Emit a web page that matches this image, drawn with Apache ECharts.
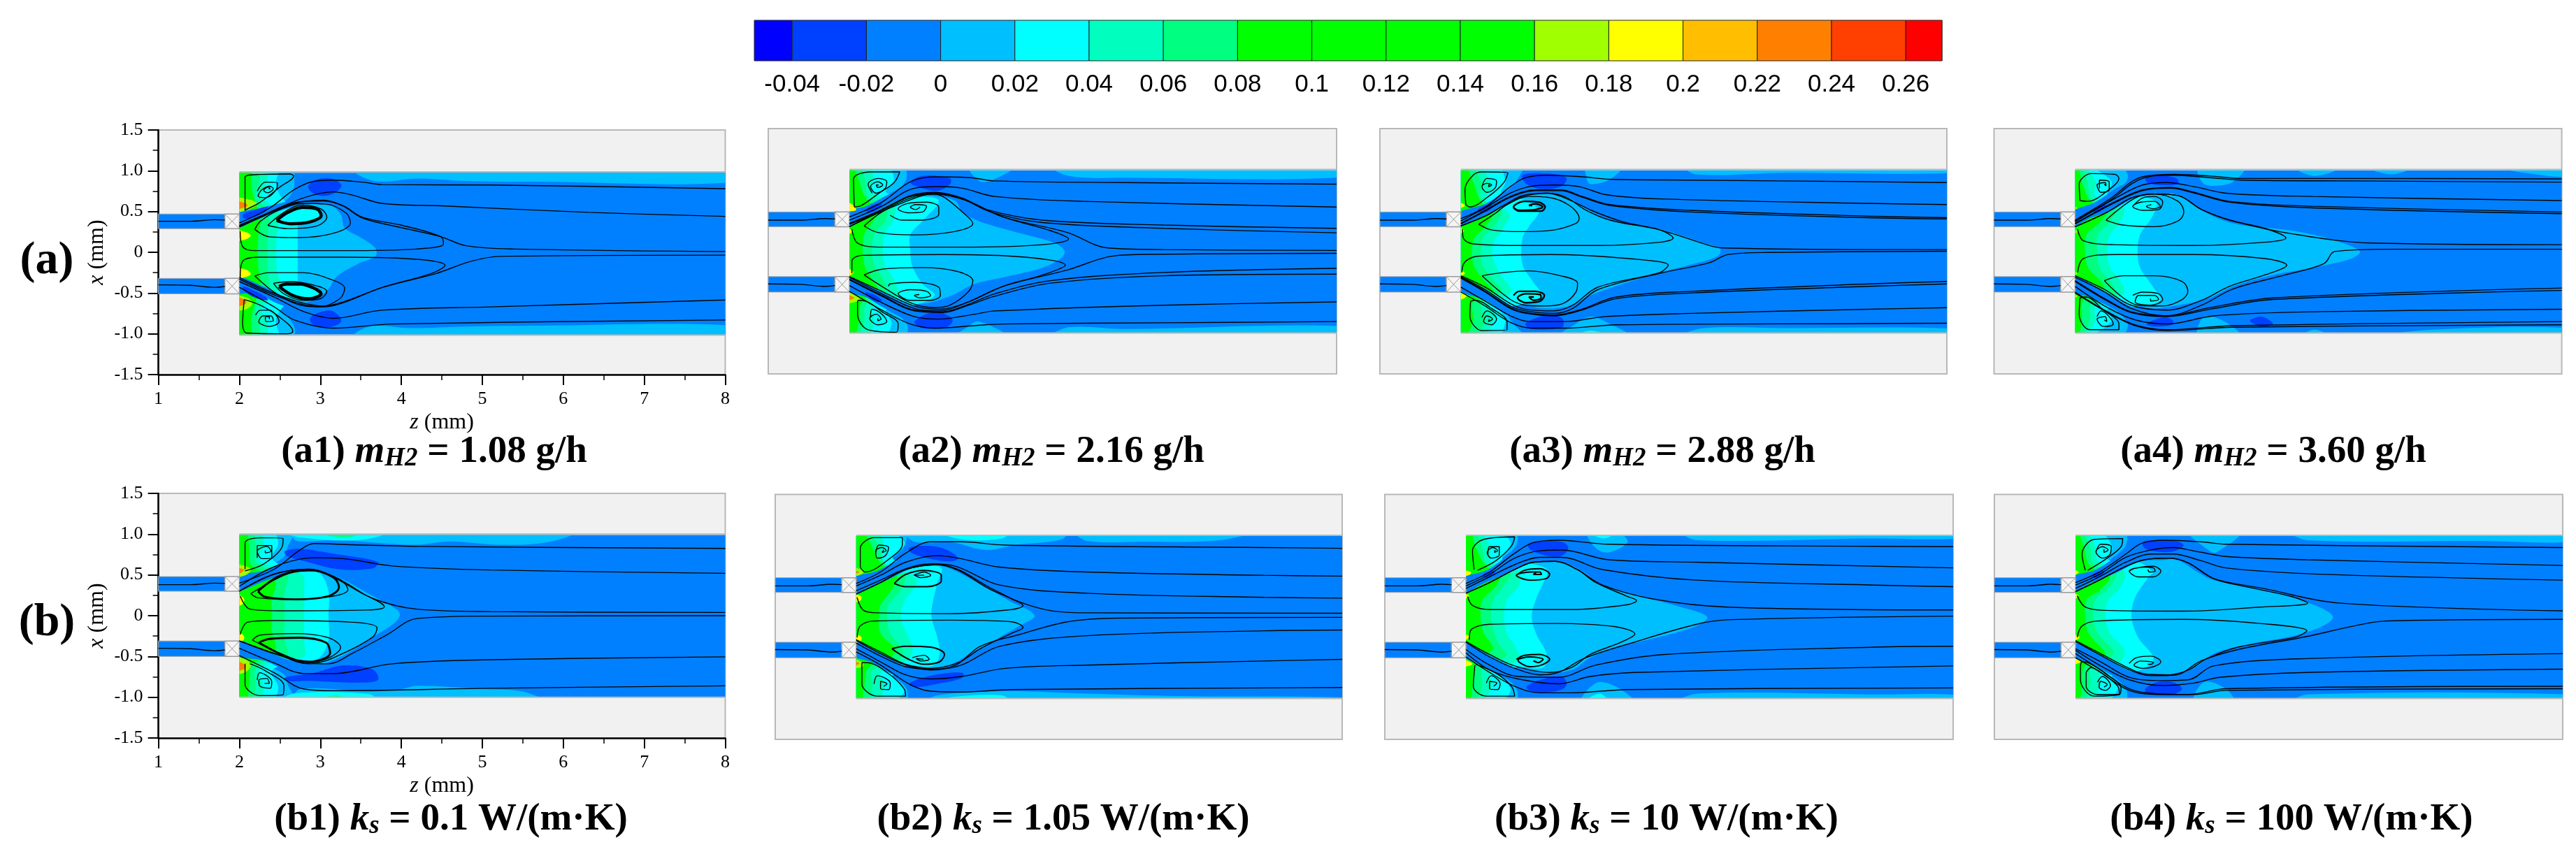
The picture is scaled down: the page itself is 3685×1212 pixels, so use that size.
<!DOCTYPE html>
<html>
<head>
<meta charset="utf-8">
<style>html,body{margin:0;background:#fff}#chart{width:3685px;height:1212px}</style>
<script src="https://cdn.jsdelivr.net/npm/echarts@6/dist/echarts.min.js"></script>
</head>
<body>
<div id="chart"></div>
<script>
// colour bar
const bandEdges = [-0.0502,-0.04,-0.02,0,0.02,0.04,0.06,0.08,0.1,0.12,0.14,0.16,0.18,0.2,0.22,0.24,0.26,0.2698];
const bandColors = ['#0000ff','#0040ff','#0080ff','#00bfff','#00ffff','#00ffbf','#00ff80','#00ff00','#00ff00','#00ff00','#00ff00','#a0ff00','#ffff00','#ffbf00','#ff8000','#ff4000','#ff0000'];
const xTicks = [1,2,3,4,5,6,7,8];
const yTicks = [-1.5,-1,-0.5,0,0.5,1,1.5];
const yTickLabels = ['-1.5','-1.0','-0.5','0','0.5','1.0','1.5'];

// inlet streamlines, z,x pairs
const inletTop = [1,.38,1.4,.38,1.7,.4,1.82,.395];
const inletBot = [1,-.4,1.4,-.405,1.7,-.43,1.82,-.42];

// filled contours: [band value, [z,x, z,x ...]]
const a1Fill = [
 [.01,[1.9,1.1,2.65,1.05,2.68,.9,2.66,.75,2.55,.62,2.3,.52,2,.47]],
 [.01,[2,.3,2.3,.42,2.6,.56,3.07,.6,3.25,.47,3.3,.3,3.5,.18,3.68,.05,3.68,-.05,3.47,-.14,3.2,-.3,3.1,-.45,2.95,-.57,2.7,-.63,2.4,-.5,2,-.3]],
 [.01,[1.9,-1.1,2.65,-1.05,2.68,-.92,2.55,-.75,2.3,-.6,2,-.5]],
 [.01,[3.4,1.05,3.45,.96,3.71,.87,4.19,.905,4.8,.875,5.7,.865,8.1,.86,8.1,1.05]],
 [.01,[3.4,-1.05,3.5,-.95,3.7,-.9,4.1,-.93,4.8,-.91,5.7,-.9,8.1,-.9,8.1,-1.05]],
 [.03,[1.9,1.1,2.48,1.05,2.45,.85,2.5,.7,2.6,.6,2.72,.55,2.72,.3,2.72,-.3,2.72,-.58,2.6,-.62,2.5,-.72,2.45,-.85,2.48,-1.05,1.9,-1.1]],
 [.05,[1.9,1.1,2.32,1.05,2.35,.9,2.28,.7,2.4,.56,2.5,.45,2.46,.2,2.46,-.2,2.5,-.42,2.4,-.55,2.28,-.7,2.35,-.9,2.32,-1.05,1.9,-1.1]],
 [.07,[1.9,1.1,2.22,1.05,2.25,.9,2.2,.68,2.35,.5,2.35,.15,2.35,-.15,2.35,-.5,2.2,-.68,2.25,-.9,2.22,-1.05,1.9,-1.1]],
 [.09,[1.9,1.1,2.13,1.05,2.15,.8,2.2,.6,2.26,.4,2.23,.15,2.23,-.15,2.26,-.4,2.2,-.6,2.15,-.8,2.13,-1.05,1.9,-1.1]],
 [-.01,[1.95,.48,2.2,.53,2.5,.6,2.8,.68,3.1,.7,3.1,.62,2.8,.59,2.5,.51,2.2,.39,1.95,.3]],
 [-.01,[1.95,-.3,2.3,-.42,2.6,-.57,2.9,-.66,2.9,-.73,2.5,-.64,2.2,-.5,1.95,-.5]],
 [.03,[2.46,.39,2.63,.35,2.86,.37,3.01,.45,2.96,.53,2.78,.55,2.6,.49]],
 [.03,[2.49,-.42,2.66,-.53,2.86,-.57,3.01,-.51,2.92,-.44,2.75,-.39,2.58,-.39]],
 [-.03,[2.05,.47,2.2,.52,2.35,.56,2.32,.5,2.15,.42,2.05,.42]],
 [-.03,[2.05,-.42,2.2,-.48,2.33,-.55,2.35,-.59,2.2,-.56,2.05,-.47]],
 [-.03,[2.85,.81,2.95,.89,3.15,.9,3.26,.82,3.18,.73,3.04,.69,2.9,.73]],
 [-.03,[2.87,-.82,2.98,-.74,3.15,-.72,3.26,-.84,3.15,-.91,2.95,-.91]],
 [.17,[1.95,.66,2.15,.64,2.22,.59,2.1,.52,1.95,.5]],
 [.23,[1.95,.62,2.08,.6,2.1,.57,2.03,.54,1.95,.53]],
 [.19,[1.95,.27,2.1,.24,2.14,.2,2.05,.15,1.95,.15]],
 [.19,[1.95,-.2,2.1,-.22,2.14,-.27,2.05,-.31,1.95,-.31]],
 [.17,[1.95,-.54,2.1,-.56,2.16,-.63,2.08,-.7,1.95,-.7]],
 [.23,[1.95,-.56,2.07,-.58,2.08,-.63,1.95,-.66]]
];
const a1Lines = [
 [2,.36,2.37,.54,2.68,.77,2.92,.87,3.16,.885,3.52,.86,3.76,.83,5.1,.825,8,.78],
 [2,.33,2.37,.49,2.8,.67,3.16,.74,3.4,.7,3.76,.6,4.49,.57,6.31,.49,8,.44],
 [2,.31,2.31,.45,2.68,.6,3.04,.64,3.28,.57,3.52,.42,4.01,.3,4.49,.19,4.8,.08,5.4,.04,8,.01],
 [2.01,.26,2.04,.07,2.19,.02,3.28,.02,4.19,.04,4.52,.1,4.49,.19,4.01,.33,3.52,.43,3.28,.57,3.04,.63,2.68,.61,2.31,.46,2,.32],
 [2.19,.28,2.37,.19,2.72,.18,3.15,.23,3.37,.36,3.32,.48,3.07,.59,2.78,.6,2.49,.52,2.26,.38,2.19,.28],
 [2.35,.33,2.6,.29,2.95,.32,3.08,.43,3.01,.53,2.78,.58,2.55,.49,2.35,.33],
 [2.42,-.38,2.63,-.36,2.95,-.41,3.08,-.48,3,-.57,2.78,-.59,2.55,-.51,2.42,-.38],
 [2.19,-.29,2.37,-.25,2.78,-.25,3.15,-.34,3.3,-.44,3.24,-.57,2.98,-.67,2.72,-.64,2.43,-.49,2.19,-.29],
 [2.01,-.31,2.04,-.11,2.25,-.06,3.28,-.06,4.25,-.09,4.54,-.16,4.37,-.26,3.77,-.43,3.28,-.61,3.04,-.66,2.74,-.61,2.37,-.48,2,-.31],
 [2,-.33,2.37,-.5,2.74,-.63,3.04,-.67,3.28,-.62,3.77,-.43,4.43,-.26,4.86,-.11,5.22,-.05,8,-.035],
 [2,-.36,2.43,-.55,2.8,-.73,3.16,-.81,3.76,-.71,5.1,-.67,8,-.585],
 [2,-.43,2.43,-.67,2.68,-.83,3.16,-.93,3.89,-.88,8,-.83],
 [2.07,.51,2.07,.92,2.25,.955,2.62,.96,2.67,.935,2.5,.8,2.25,.61,2.07,.52],
 [2.22,.75,2.32,.86,2.47,.85,2.46,.78,2.32,.67,2.23,.69,2.27,.76,2.37,.81,2.42,.78,2.35,.73,2.3,.76,2.36,.8,2.38,.78,2.36,.78],
 [2.06,-.58,2.04,-.88,2.09,-.99,2.6,-1,2.66,-.97,2.49,-.79,2.26,-.65,2.06,-.58],
 [2.2,-.77,2.26,-.71,2.37,-.71,2.49,-.85,2.37,-.91,2.24,-.85,2.29,-.78,2.39,-.78,2.42,-.84,2.33,-.85,2.32,-.8,2.37,-.79,2.37,-.82]
];
const a1Thick = [
 [2.46,.39,2.63,.35,2.86,.37,3.01,.45,2.96,.53,2.78,.55,2.6,.49,2.46,.39],
 [2.49,-.42,2.66,-.53,2.86,-.57,3.01,-.51,2.92,-.44,2.75,-.39,2.58,-.39,2.49,-.42]
];

const a2Fill = [
 [.01,[1.9,1.1,2.65,1.05,2.7,.88,2.55,.72,2.3,.58,2,.46]],
 [.01,[2,.3,2.4,.48,2.75,.66,3,.68,3.3,.62,3.39,.48,3.59,.37,3.99,.25,4.53,.1,4.65,0,4.6,-.09,4.38,-.2,3.89,-.32,3.54,-.4,3.24,-.55,2.9,-.64,2.6,-.6,2.3,-.45,2,-.31]],
 [.01,[1.9,-1.1,2.65,-1.05,2.72,-.92,2.55,-.74,2.3,-.6,2,-.46]],
 [.01,[3.47,1.05,3.6,.86,3.76,.87,4.05,1.05]],
 [.01,[4.48,1.05,4.7,.92,5.38,.9,8.1,.905,8.1,1.05]],
 [.01,[3.3,-1.05,3.45,-.93,3.59,-.86,3.95,-1.05]],
 [.01,[4.48,-1.05,4.7,-.93,5.38,-.95,8.1,-.915,8.1,-1.05]],
 [.03,[1.9,1.1,2.45,1.05,2.55,.88,2.45,.72,2.8,.68,3.1,.62,2.9,.37,2.75,.2,2.75,0,2.77,-.17,2.9,-.4,3.05,-.54,2.8,-.66,2.45,-.72,2.52,-.88,2.42,-1.05,1.9,-1.1]],
 [.05,[1.9,1.1,2.22,1.05,2.3,.9,2.28,.72,2.55,.6,2.55,.4,2.43,.2,2.43,-.15,2.55,-.35,2.6,-.55,2.28,-.68,2.3,-.85,2.22,-1.05,1.9,-1.1]],
 [.07,[1.9,1.1,2.12,1.05,2.2,.85,2.22,.68,2.45,.55,2.45,.38,2.3,.2,2.3,-.15,2.42,-.35,2.45,-.5,2.2,-.65,2.18,-.85,2.1,-1.05,1.9,-1.1]],
 [.09,[1.9,1.1,2.04,1.05,2.12,.85,2.2,.65,2.33,.52,2.3,.38,2.18,.2,2.18,-.15,2.28,-.35,2.35,-.48,2.15,-.62,2.12,-.85,2.05,-1.05,1.9,-1.1]],
 [-.01,[1.95,.48,2.2,.55,2.45,.68,2.75,.83,3.1,.85,3.1,.7,2.75,.68,2.4,.52,2.2,.42,1.95,.3]],
 [-.01,[1.95,-.3,2.4,-.5,2.8,-.68,3.1,-.72,3.1,-.88,2.75,-.85,2.4,-.68,2.2,-.56,1.95,-.49]],
 [-.03,[2.2,.5,2.3,.57,2.4,.58,2.35,.52,2.25,.47]],
 [-.03,[2.2,-.5,2.3,-.53,2.4,-.6,2.33,-.62,2.22,-.55]],
 [-.03,[2.75,.84,2.9,.92,3.24,.89,3.24,.82,3.09,.74,2.9,.77]],
 [-.03,[2.8,-.86,3.05,-.74,3.24,-.8,3.27,-.86,3.19,-.93,2.9,-.94]],
 [.19,[1.95,.6,2.05,.56,2.08,.5,1.95,.5]],
 [.19,[1.95,.28,2.04,.25,1.95,.19]],
 [.19,[1.95,-.2,2.05,-.26,1.95,-.31]],
 [.17,[1.95,-.5,2.1,-.55,2.12,-.6,1.95,-.63]],
 [.23,[1.95,-.53,2.06,-.57,1.95,-.6]]
];
const a2Lines = [
 [2,.42,2.4,.6,2.75,.85,3.05,.91,3.49,.9,3.79,.86,5.38,.84,8,.82],
 [2,.38,2.4,.55,2.8,.77,3.1,.79,3.39,.77,3.79,.67,4.88,.61,8,.54],
 [2,.34,2.4,.51,2.75,.68,3.05,.72,3.39,.65,3.69,.51,4.38,.38,5.87,.32,8,.28],
 [2,.33,2.4,.5,2.75,.67,3.05,.71,3.39,.64,3.74,.48,4.38,.35,5.87,.28,8,.225],
 [2,.3,2.6,.57,3.05,.7,3.44,.62,3.89,.42,4.68,.23,5.18,.04,5.87,.02,8,.01],
 [2.03,.27,2.1,.1,2.4,.05,3.39,.05,4.38,.08,4.7,.15,4.48,.25,3.89,.42,3.39,.64,3.05,.7,2.75,.67,2.4,.51,2,.3],
 [2.18,.31,2.35,.23,2.8,.2,3.29,.24,3.52,.34,3.39,.48,3.15,.67,3,.7,2.75,.65,2.4,.48,2.18,.31],
 [2.5,.44,2.65,.38,2.9,.38,3.1,.45,3.1,.54,2.95,.6,2.7,.58,2.6,.52,2.72,.47,2.9,.48,2.95,.55,2.82,.57,2.75,.54,2.82,.51,2.87,.54],
 [2.06,.54,2.05,.88,2.25,.97,2.62,.97,2.55,.84,2.35,.7,2.15,.56,2.06,.54],
 [2.28,.71,2.23,.82,2.35,.89,2.46,.85,2.44,.77,2.33,.71,2.26,.79,2.35,.85,2.41,.81,2.35,.78,2.33,.81,2.36,.81],
 [2,-.32,2.4,-.52,2.8,-.7,3.1,-.73,3.44,-.63,3.89,-.43,4.68,-.23,5.18,-.07,5.53,-.04,8,-.025],
 [2.03,-.27,2.03,-.12,2.15,-.05,3.15,-.04,4.14,-.07,4.66,-.17,4.38,-.29,3.89,-.43,3.44,-.63,3.1,-.71,2.8,-.67,2.4,-.49,2,-.31],
 [2.18,-.29,2.4,-.22,2.9,-.2,3.34,-.25,3.52,-.36,3.47,-.49,3.24,-.66,3.05,-.69,2.75,-.63,2.4,-.43,2.18,-.29],
 [2.48,-.43,2.5,-.4,2.8,-.38,3.1,-.44,3.12,-.54,3,-.6,2.75,-.6,2.6,-.52,2.75,-.47,2.95,-.49,3,-.54,2.87,-.57,2.8,-.54,2.86,-.53],
 [2,-.34,2.4,-.54,2.8,-.72,3.15,-.74,3.44,-.66,3.79,-.52,4.48,-.36,5.87,-.26,8,-.21],
 [2,-.35,2.4,-.55,2.8,-.73,3.15,-.75,3.44,-.67,3.79,-.55,4.48,-.39,5.87,-.3,8,-.28],
 [2,-.42,2.4,-.63,2.8,-.8,3.1,-.83,3.54,-.77,3.79,-.73,5.87,-.66,8,-.62],
 [2,-.49,2.4,-.72,2.75,-.89,3.05,-.94,3.54,-.91,3.89,-.89,5.87,-.875,8,-.86],
 [2.1,-.61,2.1,-.77,2.23,-.96,2.58,-.99,2.6,-.89,2.4,-.74,2.2,-.61,2.1,-.6],
 [2.26,-.8,2.28,-.71,2.4,-.77,2.46,-.86,2.35,-.9,2.25,-.82,2.33,-.77,2.39,-.83,2.35,-.85,2.35,-.82]
];

const a3Fill = [
 [.01,[1.9,1.1,2.76,1.05,2.7,.88,2.62,.78,2.45,.65,2.2,.52,2,.45]],
 [.01,[2,.31,2.3,.45,2.55,.58,2.85,.7,3.07,.72,3.3,.67,3.53,.53,3.9,.36,4.46,.27,5,.1,5.2,.03,5.17,-.06,4.85,-.16,4.46,-.26,3.84,-.45,3.53,-.57,3.38,-.66,3.07,-.7,2.8,-.66,2.5,-.53,2.2,-.4,2,-.31]],
 [.01,[1.9,-1.1,2.76,-1.05,2.62,-.85,2.55,-.75,2.3,-.6,2,-.46]],
 [.01,[3.55,1.05,3.55,.9,3.6,.82,3.84,.88,4,1.05]],
 [.01,[4.75,1.05,4.9,.94,6,.96,8.1,.96,8.1,1.05]],
 [.01,[3.2,-1.05,3.4,-.9,3.6,-.8,3.8,-.87,4.1,-1.05]],
 [.01,[4.7,-1.05,5,-.94,6,-.94,8.1,-.95,8.1,-1.05]],
 [.03,[3.4,-1.05,3.6,-.97,3.85,-1.05]],
 [.03,[1.9,1.1,2.45,1.05,2.55,.85,2.5,.72,2.7,.66,2.96,.5,2.84,.3,2.76,.16,2.76,-.16,2.88,-.36,3,-.56,2.7,-.66,2.5,-.72,2.55,-.85,2.45,-1.05,1.9,-1.1]],
 [.05,[1.9,1.1,2.2,1.05,2.38,.8,2.3,.62,2.6,.46,2.5,.25,2.4,.1,2.4,-.1,2.5,-.3,2.62,-.5,2.35,-.65,2.42,-.8,2.25,-1.05,1.9,-1.1]],
 [.07,[1.9,1.1,2.12,1.05,2.25,.85,2.25,.65,2.5,.5,2.4,.3,2.27,.15,2.26,-.15,2.4,-.35,2.5,-.48,2.25,-.64,2.3,-.85,2.15,-1.05,1.9,-1.1]],
 [.09,[1.9,1.1,2.05,1.05,2.15,.85,2.25,.6,2.4,.48,2.3,.3,2.16,.15,2.15,-.15,2.28,-.35,2.4,-.5,2.15,-.62,2.15,-.85,2.05,-1.05,1.9,-1.1]],
 [-.01,[1.95,.46,2.3,.58,2.6,.75,2.85,.78,3.1,.78,3.1,.72,2.8,.68,2.55,.58,2.3,.44,1.95,.31]],
 [-.01,[1.95,-.31,2.3,-.46,2.6,-.66,2.85,-.74,3.1,-.74,3.1,-.86,2.8,-.84,2.55,-.76,2.3,-.6,1.95,-.47]],
 [-.03,[2.2,.5,2.3,.56,2.38,.56,2.35,.5,2.25,.47]],
 [-.03,[2.76,.93,3.07,.95,3.3,.9,3.25,.8,3,.76,2.8,.83]],
 [-.03,[2.8,-.88,3.07,-.78,3.25,-.82,3.25,-.93,2.85,-.95]],
 [.19,[1.95,.6,2.05,.56,1.95,.52]],
 [.19,[1.95,.3,2.04,.25,1.95,.2]],
 [.19,[1.95,-.22,2.05,-.27,1.95,-.31]],
 [.19,[1.95,-.5,2.07,-.55,1.95,-.6]]
];
const a3Lines = [
 [2,.4,2.3,.54,2.61,.79,2.8,.9,3.07,.93,3.5,.91,3.84,.88,4.84,.87,7.03,.85,8,.84],
 [2,.37,2.3,.53,2.61,.71,2.84,.79,3.15,.81,3.46,.79,3.8,.69,4.46,.64,7.03,.585,8,.57],
 [2,.34,2.3,.5,2.61,.67,2.92,.75,3.23,.75,3.5,.67,3.84,.57,4.84,.5,7.03,.43,8,.41],
 [2,.335,2.3,.49,2.61,.66,2.92,.74,3.23,.74,3.5,.66,3.84,.56,4.84,.48,7.03,.41,8,.395],
 [2,.31,2.3,.43,2.53,.56,2.76,.67,3.07,.71,3.3,.66,3.53,.51,3.84,.38,4.46,.26,5.07,.07,5.23,.04,7.03,.02,8,.02],
 [2.02,.27,2.03,.16,2.15,.09,2.76,.07,3.69,.07,4.46,.11,4.62,.16,4.46,.26,4,.36,3.61,.5,3.38,.61,3.07,.71,2.76,.68,2.53,.56,2.3,.43,2,.31],
 [2.22,.33,2.38,.26,2.76,.24,3.15,.26,3.42,.34,3.46,.4,3.34,.56,3.07,.66,2.84,.67,2.57,.57,2.42,.46,2.22,.33],
 [2,-.31,2.3,-.47,2.61,-.67,2.8,-.73,3.15,-.76,3.38,-.7,3.69,-.47,4.46,-.27,5.07,-.14,5.3,-.04,5.8,-.015,8,0],
 [2.01,-.26,2.05,-.13,2.22,-.06,3.11,-.04,4.07,-.09,4.56,-.17,4.46,-.26,3.69,-.44,3.38,-.66,3.15,-.73,2.8,-.71,2.61,-.64,2.3,-.44,2,-.3],
 [2.26,-.3,2.53,-.26,2.84,-.24,3.23,-.3,3.44,-.39,3.42,-.5,3.26,-.64,3.03,-.67,2.8,-.66,2.61,-.59,2.26,-.3],
 [2,-.32,2.3,-.49,2.61,-.69,2.8,-.75,3.15,-.78,3.46,-.72,3.92,-.56,4.85,-.49,7.03,-.4,8,-.37],
 [2,-.33,2.3,-.5,2.61,-.7,2.8,-.76,3.15,-.79,3.46,-.73,3.92,-.58,4.85,-.51,7.03,-.43,8,-.4],
 [2,-.44,2.3,-.61,2.61,-.79,2.84,-.86,3.3,-.86,3.77,-.8,4.85,-.76,7.03,-.71,8,-.69],
 [2,-.5,2.3,-.67,2.61,-.87,2.88,-.94,3.3,-.94,3.92,-.9,7.03,-.885,8,-.88],
 [2.06,.57,2.05,.76,2.15,.93,2.26,.97,2.58,.96,2.53,.84,2.34,.67,2.11,.54,2.06,.57],
 [2.26,.79,2.32,.89,2.44,.86,2.42,.77,2.32,.72,2.26,.79,2.32,.83,2.38,.81,2.34,.79,2.35,.82],
 [2.12,-.61,2.11,-.79,2.26,-.97,2.57,-.96,2.57,-.87,2.38,-.7,2.18,-.6,2.12,-.61],
 [2.26,-.81,2.32,-.73,2.44,-.83,2.38,-.9,2.28,-.86,2.32,-.79,2.39,-.83,2.34,-.86,2.35,-.83]
];
const a3Thick = [
 [2.65,.53,2.72,.49,2.99,.49,3.04,.54,2.96,.6,2.78,.61,2.65,.54,2.72,.5,2.92,.51,3.01,.54,2.92,.58,2.84,.56,2.88,.56],
 [2.65,-.54,2.72,-.49,2.92,-.49,3.03,-.54,2.98,-.61,2.8,-.63,2.7,-.57,2.8,-.52,2.98,-.53,2.99,-.57,2.9,-.6,2.84,-.56,2.9,-.56]
];

const a4Fill = [
 [.01,[1.9,1.1,2.55,1.05,2.65,.9,2.5,.72,2.25,.56,2,.44]],
 [.01,[2,.3,2.4,.48,2.7,.66,3,.72,3.3,.68,3.56,.5,3.95,.34,4.69,.25,5.17,.14,5.51,0,5.41,-.09,4.93,-.2,4.44,-.29,3.95,-.43,3.66,-.57,3.27,-.66,2.88,-.69,2.5,-.49,2,-.3]],
 [.01,[1.9,-1.1,2.55,-1.05,2.65,-.9,2.5,-.72,2.25,-.56,2,-.44]],
 [.01,[3.52,1.05,3.57,.84,3.71,.8,3.95,.85,4.1,1.05]],
 [.01,[4.68,1.05,4.95,.92,5.32,1.05]],
 [.01,[5.56,1.05,5.9,.94,6.2,1.05]],
 [.01,[7.1,1.05,7.6,.95,8.1,.92,8.1,1.05]],
 [.01,[3.52,-1.05,3.59,-.8,3.86,-.87,4.05,-1.05]],
 [.01,[4.78,-1.05,4.95,-.96,5.15,-1.05]],
 [.01,[5.71,-1.05,6.4,-.96,8.1,-.94,8.1,-1.05]],
 [.03,[1.9,1.1,2.15,1.05,2.45,.85,2.4,.7,2.75,.68,3,.6,2.95,.42,2.8,.2,2.77,0,2.8,-.2,2.95,-.42,3.05,-.6,2.75,-.68,2.4,-.7,2.45,-.85,2.15,-1.05,1.9,-1.1]],
 [.05,[1.9,1.1,2.1,1.05,2.25,.85,2.25,.68,2.6,.52,2.55,.35,2.43,.2,2.4,0,2.43,-.2,2.55,-.35,2.6,-.52,2.25,-.68,2.25,-.85,2.1,-1.05,1.9,-1.1]],
 [.07,[1.9,1.1,2.06,1.05,2.15,.85,2.2,.64,2.5,.52,2.42,.35,2.28,.2,2.27,0,2.3,-.2,2.42,-.35,2.5,-.52,2.2,-.64,2.18,-.85,2.06,-1.05,1.9,-1.1]],
 [.09,[1.9,1.1,2.03,1.05,2.08,.85,2.2,.6,2.4,.5,2.3,.35,2.14,.2,2.12,0,2.16,-.2,2.3,-.35,2.35,-.45,2.1,-.6,2.08,-.85,2.03,-1.05,1.9,-1.1]],
 [-.01,[1.95,.47,2.25,.6,2.6,.82,2.85,.85,3.2,.85,3.2,.72,2.8,.68,2.45,.5,2.2,.41,1.95,.3]],
 [-.01,[1.95,-.3,2.35,-.48,2.7,-.68,3,-.74,3.2,-.72,3.2,-.85,2.8,-.86,2.5,-.72,2.2,-.57,1.95,-.48]],
 [-.03,[2.2,.5,2.32,.56,2.38,.56,2.33,.5,2.25,.47]],
 [-.03,[2.87,.89,3.08,.92,3.25,.89,3.27,.82,3.03,.81,2.89,.84]],
 [-.03,[2.88,-.89,3.08,-.81,3.2,-.84,3.2,-.9,2.98,-.92]],
 [-.03,[4.16,-.84,4.3,-.8,4.44,-.89,4.3,-.92,4.17,-.87]],
 [.17,[1.95,.55,2.03,.53,1.95,.5]],
 [.17,[1.95,.27,2.03,.24,1.95,.2]],
 [.17,[1.95,-.24,2.03,-.27,1.95,-.31]],
 [.17,[1.95,-.52,2.03,-.55,1.95,-.58]]
];
const a4Lines = [
 [2,.38,2.4,.62,2.83,.91,3.22,.94,3.66,.92,4.05,.89,5.42,.89,8,.885],
 [2,.37,2.4,.6,2.83,.89,3.22,.93,3.66,.9,4.05,.87,5.42,.86,8,.845],
 [2,.36,2.5,.65,2.83,.81,3.13,.84,3.47,.79,3.86,.71,4.93,.67,8,.62],
 [2,.34,2.5,.61,2.83,.75,3.17,.78,3.47,.72,3.9,.61,4.93,.55,8,.48],
 [2,.335,2.5,.6,2.83,.74,3.17,.77,3.47,.71,3.9,.6,4.93,.53,8,.46],
 [2,.3,2.4,.48,2.69,.65,2.98,.7,3.27,.68,3.56,.51,3.95,.37,4.69,.21,5.66,.1,8,.08],
 [2.03,.27,2.1,.13,2.49,.08,3.47,.07,4.34,.11,4.6,.16,4.34,.28,3.9,.38,3.56,.51,3.27,.68,2.98,.7,2.69,.65,2.4,.48,2,.3],
 [2.38,.38,2.59,.32,2.98,.3,3.27,.37,3.34,.48,3.27,.61,2.98,.7,2.74,.65,2.38,.38],
 [2.71,.55,2.83,.65,2.98,.67,3.08,.6,3.03,.51,2.83,.5,2.71,.55,2.81,.6,2.98,.61,3.05,.55,2.96,.52,2.88,.55,2.94,.57],
 [2,-.32,2.35,-.49,2.69,-.7,3.13,-.79,3.56,-.66,3.95,-.46,4.59,-.29,5.07,-.15,5.2,-.003,5.9,.025,8,.025],
 [2.03,-.26,2.1,-.09,2.49,-.04,3.47,-.04,4.34,-.09,4.61,-.17,4.34,-.29,3.9,-.43,3.56,-.6,3.13,-.72,2.69,-.66,2.35,-.46,2,-.3],
 [2.36,-.36,2.59,-.3,2.98,-.3,3.32,-.37,3.39,-.49,3.32,-.59,3.08,-.67,2.78,-.66,2.36,-.36],
 [2.71,-.54,2.83,-.5,3.03,-.52,3.08,-.59,2.93,-.66,2.74,-.62,2.78,-.54,2.98,-.54,3.03,-.59,2.93,-.61,2.93,-.58],
 [2,-.36,2.4,-.6,2.69,-.74,3.13,-.79,3.66,-.69,4.44,-.57,8,-.45],
 [2,-.37,2.4,-.61,2.69,-.75,3.13,-.8,3.66,-.71,4.44,-.59,8,-.48],
 [2,-.43,2.4,-.69,2.74,-.84,3.13,-.89,3.71,-.79,4.93,-.74,8,-.71],
 [2,-.5,2.4,-.74,2.74,-.9,3.13,-.96,3.95,-.91,8,-.86],
 [2,-.51,2.4,-.75,2.74,-.91,3.13,-.97,3.95,-.93,8,-.9],
 [2.06,.62,2.05,.82,2.2,.95,2.49,.94,2.54,.89,2.44,.77,2.15,.61,2.06,.62],
 [2.3,.77,2.3,.87,2.42,.85,2.42,.75,2.32,.72,2.27,.81,2.37,.84,2.38,.8,2.36,.82],
 [2.06,-.57,2.05,-.77,2.18,-.96,2.54,-.96,2.54,-.89,2.35,-.72,2.13,-.56,2.06,-.57],
 [2.27,-.8,2.32,-.73,2.47,-.89,2.35,-.92,2.27,-.83,2.37,-.8,2.39,-.86,2.36,-.84]
];

const b1Fill = [
 [.01,[1.9,1.1,2.6,1.05,2.7,.92,3.2,.93,3.6,.9,4.2,.87,4.6,.91,5.2,.87,5.8,.9,6.2,1.05]],
 [.01,[1.9,1.05,2.65,1,2.6,.85,2.55,.72,2.3,.58,2,.46]],
 [.01,[2,.3,2.43,.52,2.86,.57,3.22,.47,3.65,.24,3.95,.07,3.98,0,3.89,-.11,3.65,-.26,3.28,-.49,2.92,-.6,2.43,-.46,2,-.31]],
 [.01,[1.9,-1.1,2.6,-1.05,2.75,-.9,3.6,-.93,4,-.9,4.2,-.86,5,-.9,5.5,-.93,5.75,-1.05]],
 [.01,[1.9,-1.05,2.65,-1,2.6,-.85,2.55,-.72,2.3,-.6,2,-.48]],
 [.03,[2.5,1.05,2.75,.96,3.5,.93,3.9,1.05]],
 [.03,[2.5,-1.05,2.7,-.95,3.6,-.96,3.7,-1.05]],
 [.03,[1.9,1.1,2.4,1.05,2.48,.88,2.4,.7,2.7,.56,2.98,.53,3.1,.3,3.1,0,3.1,-.3,2.98,-.52,2.7,-.56,2.4,-.68,2.48,-.88,2.4,-1.05,1.9,-1.1]],
 [.05,[1.9,1.1,2.25,1.05,2.3,.88,2.25,.68,2.55,.56,2.78,.5,2.8,.3,2.8,0,2.8,-.3,2.8,-.5,2.55,-.55,2.25,-.66,2.3,-.88,2.25,-1.05,1.9,-1.1]],
 [.07,[1.9,1.1,2.15,1.05,2.2,.85,2.2,.66,2.45,.54,2.6,.5,2.56,.3,2.56,0,2.56,-.3,2.6,-.48,2.4,-.52,2.2,-.64,2.2,-.85,2.15,-1.05,1.9,-1.1]],
 [.09,[1.9,1.1,2.08,1.05,2.12,.85,2.15,.62,2.35,.5,2.45,.4,2.4,.2,2.4,0,2.4,-.2,2.45,-.4,2.35,-.5,2.15,-.6,2.12,-.85,2.08,-1.05,1.9,-1.1]],
 [-.01,[1.95,.48,2.3,.55,2.6,.68,2.9,.68,2.9,.58,2.6,.52,2.3,.42,1.95,.3]],
 [-.01,[1.95,-.3,2.3,-.42,2.6,-.54,2.9,-.6,2.9,-.7,2.6,-.67,2.3,-.55,1.95,-.48]],
 [.07,[2.9,1.05,3.1,.98,3.4,.97,3.5,1.05]],
 [.07,[2.9,-1.05,3.2,-.98,3.4,-1.05]],
 [-.03,[2.56,.79,2.74,.82,3.16,.76,3.71,.66,3.65,.58,3.22,.57,2.8,.67,2.59,.73]],
 [-.03,[2.56,-.76,2.92,-.7,3.28,-.61,3.65,-.66,3.71,-.79,3.4,-.82,2.86,-.8,2.59,-.8]],
 [.17,[1.95,.62,2.1,.6,2.14,.56,2.08,.5,1.95,.48]],
 [.23,[1.95,.58,2.06,.56,1.95,.5]],
 [.19,[1.95,.26,2.05,.22,2.05,.15,1.95,.12]],
 [.19,[1.95,-.2,2.05,-.24,2.05,-.3,1.95,-.31]],
 [.17,[1.95,-.52,2.1,-.55,2.14,-.62,2.06,-.7,1.95,-.7]],
 [.23,[1.95,-.56,2.07,-.6,2.07,-.65,1.95,-.67]]
];
const b1Lines = [
 [2,.4,2.43,.57,2.74,.8,2.92,.885,3.4,.87,4.25,.85,8,.825],
 [2,.36,2.43,.6,2.92,.71,3.28,.7,3.89,.61,5.1,.56,8,.52],
 [2,.3,2.43,.51,2.86,.57,3.16,.47,3.65,.21,4.19,.08,5.1,.05,8,.04],
 [2.01,.24,2.13,.08,2.5,.06,3.59,.07,3.79,.11,3.53,.27,3.22,.45,2.86,.57,2.43,.51,2,.3],
 [2.14,.27,2.23,.22,2.68,.2,3.16,.24,3.34,.32,3.25,.44,2.92,.55,2.62,.52,2.14,.27],
 [2,-.31,2.43,-.46,2.86,-.59,3.1,-.59,3.4,-.46,3.83,-.23,4.19,-.035,5.1,-.005,8,0],
 [2.01,-.23,2.1,-.08,2.43,-.06,3.4,-.08,3.7,-.15,3.65,-.26,3.22,-.49,2.92,-.58,2.5,-.49,2,-.31],
 [2.16,-.3,2.25,-.24,2.68,-.22,3.1,-.27,3.25,-.39,3.1,-.52,2.86,-.57,2.5,-.46,2.16,-.3],
 [2,-.4,2.43,-.58,2.8,-.71,3.16,-.71,3.89,-.59,5.1,-.54,8,-.505],
 [2,-.49,2.43,-.7,2.8,-.9,3.16,-.92,5.1,-.89,8,-.86],
 [2.07,.57,2.07,.89,2.25,.955,2.54,.95,2.53,.85,2.31,.64,2.07,.55],
 [2.22,.71,2.22,.86,2.4,.86,2.4,.71,2.28,.7,2.22,.79,2.34,.85,2.39,.79,2.32,.77,2.32,.8],
 [2.07,-.59,2.07,-.84,2.25,-.98,2.54,-.97,2.55,-.86,2.31,-.67,2.13,-.59],
 [2.22,-.79,2.25,-.7,2.4,-.81,2.38,-.89,2.25,-.86,2.24,-.79,2.34,-.77,2.37,-.83,2.31,-.83]
];
const b1Thick = [
 [2.23,.3,2.32,.23,2.68,.2,3.1,.24,3.23,.35,3.16,.47,2.86,.56,2.5,.49,2.23,.3],
 [2.24,-.33,2.37,-.285,2.74,-.27,3.07,-.33,3.12,-.46,2.86,-.565,2.62,-.52,2.24,-.33]
];

const b2Fill = [
 [.01,[1.9,1.1,2.6,1.05,2.6,.88,2.45,.72,2.25,.58,2,.46]],
 [.01,[2,.28,2.4,.48,2.8,.62,3.07,.62,3.46,.44,3.92,.18,4.15,.07,4.2,0,4.07,-.08,3.77,-.25,3.46,-.42,3.15,-.59,2.84,-.63,2.53,-.53,2,-.29]],
 [.01,[1.9,-1.1,2.6,-1.05,2.62,-.88,2.45,-.72,2.25,-.58,2,-.46]],
 [.01,[2.6,1.05,2.72,.92,3.2,.91,3.6,.82,3.96,.88,4.54,.95,4.6,1.05]],
 [.01,[4.7,1.05,4.85,.93,5.5,.92,6.5,.94,6.9,1.05]],
 [.01,[2.85,-1.05,3,-.96,3.84,-.91,4.85,-.94,6,-.97,8.1,-.99,8.1,-1.05]],
 [.03,[3,1.05,3.3,.95,3.8,.96,3.9,1.05]],
 [.03,[2.95,-1.05,3.2,-.98,3.8,-.96,3.9,-1.05]],
 [.03,[1.9,1.1,2.4,1.05,2.6,.9,2.45,.72,2.75,.63,3.05,.6,3,.41,2.94,.15,2.93,0,3,-.25,3.03,-.45,2.95,-.6,2.6,-.6,2.45,-.72,2.6,-.9,2.4,-1.05,1.9,-1.1]],
 [.05,[1.9,1.1,2.25,1.05,2.35,.85,2.3,.68,2.6,.55,2.75,.43,2.6,.2,2.55,0,2.62,-.2,2.7,-.4,2.6,-.55,2.3,-.68,2.35,-.85,2.25,-1.05,1.9,-1.1]],
 [.07,[1.9,1.1,2.15,1.05,2.28,.85,2.35,.66,2.6,.5,2.55,.33,2.4,.15,2.38,0,2.42,-.2,2.58,-.42,2.5,-.55,2.2,-.65,2.2,-.85,2.12,-1.05,1.9,-1.1]],
 [.09,[1.9,1.1,2.08,1.05,2.2,.85,2.3,.66,2.5,.5,2.45,.35,2.3,.15,2.28,0,2.3,-.2,2.48,-.4,2.42,-.5,2.15,-.62,2.1,-.85,2.05,-1.05,1.9,-1.1]],
 [-.01,[1.95,.47,2.25,.56,2.5,.68,2.8,.74,3.1,.74,3.1,.66,2.7,.6,2.4,.46,2.2,.38,1.95,.28]],
 [-.01,[1.95,-.29,2.3,-.45,2.6,-.6,2.9,-.66,3.1,-.68,3.1,-.78,2.7,-.78,2.4,-.68,2.2,-.56,1.95,-.47]],
 [-.03,[2.65,.84,2.8,.87,3.07,.84,3.26,.72,3.15,.68,2.88,.72,2.69,.78]],
 [-.03,[2.65,-.82,2.8,-.75,3.11,-.69,3.32,-.69,3.3,-.75,3,-.82,2.72,-.86]],
 [.17,[1.95,.6,2.08,.57,2.08,.53,1.95,.5]],
 [.23,[1.95,.57,2.04,.55,1.95,.52]],
 [.19,[1.95,.28,2.06,.25,2.05,.2,1.95,.18]],
 [.19,[1.95,-.22,2.06,-.24,2.05,-.3,1.95,-.31]],
 [.17,[1.95,-.52,2.08,-.56,2.08,-.61,1.95,-.62]],
 [.23,[1.95,-.54,2.04,-.57,1.95,-.6]]
];
const b2Lines = [
 [2,.41,2.3,.55,2.61,.78,2.92,.92,3.3,.92,3.84,.88,7.03,.85,8,.84],
 [2,.38,2.3,.51,2.61,.67,3,.75,3.26,.72,3.77,.61,4.85,.55,7.03,.51,8,.5],
 [2,.32,2.3,.45,2.61,.59,2.92,.65,3.23,.62,3.77,.39,4.85,.29,7.03,.24,8,.23],
 [2,.28,2.3,.42,2.61,.58,3,.64,3.26,.57,3.69,.32,4.38,.08,4.85,.05,8,.045],
 [2.01,.24,2.09,.08,2.26,.05,3.15,.04,3.92,.09,4.06,.14,3.92,.22,3.61,.38,3.26,.58,3,.64,2.61,.58,2.3,.42,2,.28],
 [2.71,.51,2.84,.55,2.92,.51,2.8,.48,2.72,.51,2.84,.51],
 [2,-.29,2.3,-.45,2.61,-.59,2.92,-.65,3.23,-.59,3.53,-.36,4,-.22,4.61,-.06,5.23,-.015,8,-.005],
 [2.01,-.25,2.05,-.11,2.22,-.05,3.15,-.04,3.92,-.06,4.06,-.13,3.92,-.2,3.53,-.39,3.26,-.56,2.92,-.63,2.61,-.58,2.3,-.43,2,-.28],
 [2.69,-.5,2.84,-.47,2.9,-.52,2.8,-.54,2.74,-.51,2.83,-.52],
 [2,-.32,2.3,-.48,2.61,-.61,2.96,-.64,3.3,-.59,3.77,-.36,4.85,-.23,7.03,-.17,8,-.16],
 [2,-.39,2.3,-.55,2.61,-.71,2.92,-.76,3.3,-.73,3.84,-.63,4.85,-.59,7.03,-.54,8,-.52],
 [2,-.43,2.3,-.59,2.65,-.82,2.92,-.91,3.3,-.92,3.92,-.89,7.03,-.87,8,-.865],
 [2.05,.61,2.05,.84,2.22,.97,2.57,.97,2.57,.89,2.42,.72,2.11,.55,2.05,.61],
 [2.24,.78,2.28,.88,2.4,.85,2.36,.75,2.26,.72,2.24,.81,2.32,.85,2.37,.81,2.32,.79,2.34,.82],
 [2.07,-.56,2.07,-.82,2.26,-.97,2.61,-.97,2.59,-.88,2.42,-.71,2.13,-.56,2.07,-.56],
 [2.22,-.82,2.26,-.72,2.42,-.81,2.4,-.89,2.3,-.88,2.3,-.79,2.38,-.82,2.34,-.85]
];
const b2Thick = [
 [2.47,.41,2.61,.52,2.84,.57,3.05,.51,3.05,.44,2.88,.37,2.61,.37,2.47,.41],
 [2.44,-.39,2.61,-.36,2.92,-.37,3.09,-.46,3.03,-.55,2.84,-.58,2.65,-.52,2.44,-.39]
];

const b3Fill = [
 [.01,[1.9,1.1,2.6,1.05,2.62,.88,2.45,.72,2.25,.58,2,.46]],
 [.01,[2,.29,2.6,.59,3.1,.69,3.45,.55,3.68,.38,4.07,.27,4.65,.12,4.97,0,4.84,-.11,4.45,-.23,3.91,-.36,3.53,-.5,3.3,-.65,2.91,-.68,2,-.31]],
 [.01,[1.9,-1.1,2.6,-1.05,2.62,-.88,2.45,-.72,2.25,-.58,2,-.46]],
 [.01,[3.49,1.05,3.6,.84,3.76,.79,3.99,.92,3.84,1.05]],
 [.01,[4.65,1.05,4.84,.94,7,.96,8.1,.965,8.1,1.05]],
 [.01,[3.42,-1.05,3.6,-.81,3.84,-.85,4.07,-1.05]],
 [.01,[4.6,-1.05,4.85,-.94,7,-.95,8.1,-.96,8.1,-1.05]],
 [.03,[3.5,1.05,3.7,.96,3.85,1.05]],
 [.03,[3.45,-1.05,3.65,-.94,3.75,-1.05]],
 [.03,[1.9,1.1,2.4,1.05,2.55,.9,2.45,.7,2.75,.66,3,.58,2.95,.41,2.87,.24,2.81,0,2.87,-.22,2.99,-.45,2.95,-.62,2.6,-.62,2.45,-.72,2.55,-.9,2.4,-1.05,1.9,-1.1]],
 [.05,[1.9,1.1,2.15,1.05,2.3,.85,2.3,.68,2.65,.55,2.65,.38,2.5,.2,2.47,0,2.5,-.2,2.6,-.35,2.65,-.52,2.3,-.68,2.32,-.85,2.18,-1.05,1.9,-1.1]],
 [.07,[1.9,1.1,2.1,1.05,2.2,.85,2.25,.66,2.55,.53,2.45,.36,2.33,.2,2.31,0,2.35,-.2,2.42,-.35,2.5,-.47,2.2,-.64,2.2,-.85,2.1,-1.05,1.9,-1.1]],
 [.09,[1.9,1.1,2.05,1.05,2.12,.85,2.25,.62,2.42,.5,2.35,.36,2.2,.2,2.18,0,2.22,-.2,2.33,-.38,2.2,-.5,2.1,-.62,2.08,-.85,2.04,-1.05,1.9,-1.1]],
 [-.01,[1.95,.47,2.25,.57,2.55,.76,2.85,.83,3.2,.83,3.2,.7,2.8,.66,2.5,.53,2.2,.4,1.95,.29]],
 [-.01,[1.95,-.3,2.29,-.47,2.6,-.62,2.9,-.7,3.2,-.68,3.2,-.8,2.8,-.84,2.5,-.76,2.2,-.6,1.95,-.47]],
 [-.03,[2.76,.89,2.88,.92,3.18,.92,3.26,.85,3.18,.75,2.99,.75,2.8,.82]],
 [-.03,[2.75,-.85,2.88,-.78,3.18,-.73,3.24,-.82,3.18,-.89,2.91,-.93,2.76,-.89]],
 [-.03,[2.2,.51,2.3,.56,2.36,.55,2.3,.5,2.22,.48]],
 [.19,[1.95,.57,2.06,.55,2.05,.52,1.95,.5]],
 [.19,[1.95,.28,2.04,.26,1.95,.2]],
 [.19,[1.95,-.22,2.05,-.24,1.95,-.3]],
 [.19,[1.95,-.52,2.08,-.57,2.04,-.6,1.95,-.6]]
];
const b3Lines = [
 [2,.41,2.29,.55,2.6,.78,2.83,.91,3.14,.94,3.76,.89,7.03,.865,8,.86],
 [2,.38,2.29,.52,2.6,.72,2.91,.81,3.18,.82,3.76,.7,4.84,.67,8,.6],
 [2,.35,2.29,.49,2.6,.64,2.91,.73,3.18,.73,3.68,.58,4.84,.45,7.03,.39,8,.37],
 [2,.29,2.29,.42,2.6,.58,2.83,.67,3.1,.68,3.37,.58,3.68,.39,4.3,.22,5.22,.12,8,.085],
 [2.02,.25,2.08,.14,2.29,.09,3.3,.09,3.99,.15,4.1,.2,3.99,.25,3.6,.42,3.37,.58,3.1,.68,2.83,.67,2.6,.58,2.29,.42,2,.29],
 [2,-.31,2.29,-.49,2.6,-.63,2.91,-.71,3.14,-.68,3.45,-.51,4.07,-.31,4.84,-.09,5.22,-.035,8,.01],
 [2.04,-.28,2.06,-.16,2.29,-.09,3.1,-.08,3.84,-.12,4.08,-.21,3.91,-.31,3.53,-.46,3.3,-.62,3.03,-.68,2.6,-.6,2.29,-.46,2,-.3],
 [2,-.4,2.29,-.59,2.64,-.73,3.14,-.74,3.6,-.59,4.45,-.46,7.03,-.37,8,-.36],
 [2,-.44,2.29,-.65,2.64,-.76,3.14,-.82,3.53,-.73,4.07,-.68,8,-.6],
 [2,-.49,2.29,-.68,2.6,-.85,2.91,-.93,3.3,-.93,3.99,-.89,8,-.87],
 [2.1,.58,2.08,.81,2.22,.95,2.6,.98,2.56,.87,2.37,.69,2.14,.57],
 [2.27,.76,2.29,.86,2.41,.86,2.41,.76,2.31,.72,2.26,.79,2.33,.85,2.39,.81,2.35,.79,2.36,.82],
 [2.11,-.59,2.09,-.85,2.25,-.97,2.6,-.97,2.56,-.85,2.37,-.69,2.12,-.58],
 [2.25,-.81,2.31,-.72,2.42,-.82,2.39,-.89,2.29,-.88,2.29,-.79,2.38,-.81,2.34,-.85]
];
const b3Thick = [
 [2.62,.51,2.72,.57,2.91,.59,3.03,.52,2.99,.47,2.79,.45,2.62,.51,2.79,.55,2.91,.55,2.93,.52,2.83,.52,2.87,.55],
 [2.62,-.52,2.72,-.47,2.91,-.46,3.03,-.52,2.93,-.59,2.79,-.61,2.64,-.53,2.79,-.49,2.95,-.52,2.89,-.56,2.83,-.54,2.87,-.55]
];

const b4Fill = [
 [.01,[1.9,1.1,2.6,1.05,2.62,.88,2.45,.72,2.25,.58,2,.46]],
 [.01,[2,.31,2.62,.63,2.93,.74,3.27,.69,3.5,.55,3.7,.45,4.47,.29,5,.12,5.17,0,5.05,-.11,4.7,-.23,4.16,-.33,3.7,-.45,3.5,-.6,3.27,-.68,2.93,-.71,2,-.3]],
 [.01,[1.9,-1.1,2.6,-1.05,2.62,-.88,2.45,-.72,2.25,-.58,2,-.46]],
 [.01,[3.39,1.05,3.62,.83,3.73,.79,4.04,1.05]],
 [.01,[4.64,1.05,4.85,.94,7,.93,8.1,.925,8.1,1.05]],
 [.01,[3.46,-1.05,3.58,-.8,3.85,-.88,3.95,-1.05]],
 [.01,[4.66,-1.05,4.85,-.95,8.1,-.95,8.1,-1.05]],
 [.03,[1.9,1.1,2.3,1.05,2.45,.85,2.4,.7,2.75,.68,2.95,.55,2.9,.49,2.73,.23,2.69,0,2.77,-.25,2.96,-.51,2.8,-.65,2.45,-.72,2.52,-.88,2.35,-1.05,1.9,-1.1]],
 [.05,[1.9,1.1,2.12,1.05,2.25,.85,2.28,.68,2.6,.56,2.55,.36,2.4,.2,2.37,0,2.42,-.2,2.6,-.4,2.55,-.55,2.3,-.68,2.3,-.85,2.15,-1.05,1.9,-1.1]],
 [.07,[1.9,1.1,2.07,1.05,2.18,.85,2.22,.65,2.5,.54,2.4,.35,2.24,.2,2.22,0,2.27,-.2,2.47,-.42,2.42,-.5,2.18,-.64,2.18,-.85,2.08,-1.05,1.9,-1.1]],
 [.09,[1.9,1.1,2.03,1.05,2.1,.85,2.18,.62,2.42,.5,2.3,.33,2.13,.2,2.12,0,2.16,-.2,2.37,-.45,2.3,-.5,2.1,-.62,2.08,-.85,2.03,-1.05,1.9,-1.1]],
 [-.01,[1.95,.48,2.25,.58,2.6,.79,2.85,.85,3.2,.85,3.2,.72,2.8,.68,2.5,.54,2.2,.42,1.95,.31]],
 [-.01,[1.95,-.3,2.31,-.47,2.62,-.64,2.9,-.72,3.2,-.72,3.2,-.84,2.8,-.84,2.5,-.74,2.2,-.58,1.95,-.47]],
 [-.03,[2.83,.92,3,.94,3.27,.92,3.33,.87,3.2,.8,3,.8,2.85,.84]],
 [-.03,[2.86,-.88,3,-.8,3.2,-.8,3.31,-.88,3.2,-.95,2.96,-.95,2.87,-.93]],
 [-.03,[2.2,.51,2.3,.56,2.36,.56,2.3,.5,2.22,.48]],
 [.19,[1.95,.57,2.04,.55,1.95,.5]],
 [.19,[1.95,.28,2.04,.26,1.95,.2]],
 [.19,[1.95,-.22,2.05,-.25,1.95,-.3]],
 [.19,[1.95,-.5,2.06,-.55,1.95,-.58]]
];
const b4Lines = [
 [2,.42,2.31,.56,2.62,.77,2.81,.9,3.08,.94,3.54,.92,3.85,.89,8,.85],
 [2,.39,2.31,.53,2.62,.73,2.93,.82,3.2,.85,3.5,.8,3.85,.74,4.85,.7,8,.63],
 [2,.35,2.31,.5,2.62,.67,2.93,.77,3.2,.77,3.54,.69,3.85,.6,4.85,.53,7.03,.47,8,.45],
 [2,.31,2.31,.46,2.62,.62,2.85,.7,3.16,.72,3.39,.66,3.7,.47,4.31,.35,5.24,.17,8,.075],
 [2.02,.26,2.12,.12,2.35,.08,3.31,.07,4.27,.12,4.86,.17,4.66,.25,4,.39,3.7,.47,3.39,.66,3.16,.72,2.85,.7,2.62,.62,2.31,.46,2,.31],
 [2.66,.56,2.75,.6,2.96,.62,3.05,.56,2.96,.49,2.77,.49,2.66,.56,2.85,.61,2.96,.6,2.98,.56,2.91,.55,2.89,.58],
 [2,-.3,2.31,-.47,2.62,-.63,2.93,-.72,3.24,-.71,3.54,-.54,4,-.4,4.85,-.24,5.43,-.11,5.82,-.05,8,-.03],
 [2.02,-.25,2.08,-.11,2.27,-.05,3.31,-.03,4.27,-.08,4.85,-.17,4.7,-.25,4,-.37,3.62,-.51,3.39,-.65,3.16,-.71,2.85,-.7,2.62,-.61,2.31,-.45,2,-.29],
 [2.66,-.57,2.75,-.5,2.93,-.48,3.05,-.55,2.96,-.61,2.83,-.63,2.72,-.59,2.8,-.54,2.96,-.56,2.93,-.58,2.89,-.58],
 [2,-.39,2.31,-.55,2.66,-.74,3,-.78,3.39,-.77,3.7,-.6,4.85,-.51,8,-.45],
 [2,-.41,2.31,-.6,2.66,-.77,3.08,-.84,3.46,-.81,3.77,-.74,4.85,-.68,8,-.64],
 [2,-.45,2.31,-.65,2.66,-.88,3,-.94,3.39,-.95,3.85,-.88,8,-.85],
 [2,-.5,2.31,-.68,2.66,-.9,3,-.95,3.46,-.95,3.85,-.9,8,-.88],
 [2.12,.57,2.08,.77,2.23,.95,2.58,.96,2.56,.86,2.39,.72,2.15,.57],
 [2.25,.79,2.31,.89,2.44,.86,2.42,.76,2.33,.72,2.25,.8,2.33,.86,2.4,.82,2.35,.79,2.35,.83],
 [2.06,-.6,2.06,-.77,2.23,-.97,2.54,-.95,2.56,-.87,2.39,-.71,2.15,-.56,2.08,-.55,2.06,-.6],
 [2.13,-.68,2.13,-.85,2.27,-.95,2.54,-.95,2.52,-.85,2.35,-.71,2.19,-.62,2.13,-.68],
 [2.27,-.8,2.33,-.73,2.43,-.84,2.37,-.9,2.29,-.86,2.31,-.79,2.39,-.83,2.35,-.86]
];

// captions
const capRowA = ['1.08','2.16','2.88','3.60'];
const capRowB = ['0.1','1.05','10','100'];

// panel layout
const panels = [
 {id:'a1',fill:a1Fill,lines:a1Lines,thick:a1Thick,thickW:4.5,left:226.6,right:1037.5,top:186,bottom:536,wall:[.985,-1.015],inlet:[.47,.29,-.32,-.51],axes:true},
 {id:'a2',fill:a2Fill,lines:a2Lines,thick:[],left:1099,right:1912,top:184,bottom:535,wall:[1,-1],inlet:[.48,.3,-.31,-.5]},
 {id:'a3',fill:a3Fill,lines:a3Lines,thick:a3Thick,thickW:2.4,left:1974,right:2785,top:184,bottom:535,wall:[1,-1],inlet:[.48,.3,-.31,-.5]},
 {id:'a4',fill:a4Fill,lines:a4Lines,thick:[],left:2852.5,right:3664.6,top:184,bottom:535,wall:[1,-1],inlet:[.48,.3,-.31,-.5]},
 {id:'b1',fill:b1Fill,lines:b1Lines,thick:b1Thick,thickW:2.8,left:226.6,right:1037.5,top:706,bottom:1056,wall:[1,-1],inlet:[.48,.3,-.31,-.5],axes:true},
 {id:'b2',fill:b2Fill,lines:b2Lines,thick:b2Thick,thickW:2,left:1109,right:1920,top:707.5,bottom:1058,wall:[1,-1],inlet:[.48,.3,-.31,-.5]},
 {id:'b3',fill:b3Fill,lines:b3Lines,thick:b3Thick,thickW:2,left:1981,right:2794,top:707.5,bottom:1058,wall:[1,-1],inlet:[.48,.3,-.31,-.5]},
 {id:'b4',fill:b4Fill,lines:b4Lines,thick:[],left:2853,right:3666,top:707.5,bottom:1058,wall:[1,-1],inlet:[.48,.3,-.31,-.5]}
];
const captionX = [616,1499,2373,3247,640,1516,2379,3273];
const captionY = [642,642,642,642,1168,1168,1168,1168];

const SERIF = 'Liberation Serif';

function pairs(flat) {
  let _arr = [];
  for (let i = 0; i < flat.length; i += 2) _arr.push([flat[i], flat[i + 1]]);
  return _arr;
}
function bandColor(v) {
  for (let i = 0; i < bandColors.length; i++) {
    if (v >= bandEdges[i] && v < bandEdges[i + 1]) return bandColors[i];
  }
  return bandColors[bandColors.length - 1];
}
function rectFrom(api, z0, x0, z1, x1) {
  const a = api.coord([z0, x0]), b = api.coord([z1, x1]);
  return {x: a[0], y: a[1], width: b[0] - a[0], height: b[1] - a[1]};
}

const grid = [], xAxis = [], yAxis = [], series = [], title = [];

panels.forEach((p, i) => {
  grid.push({
    left: p.left, top: p.top, width: p.right - p.left, height: p.bottom - p.top,
    show: true, backgroundColor: '#f1f1f1', borderColor: '#b8b8b8', borderWidth: 2
  });
  xAxis.push({
    gridIndex: i, type: 'value', min: 1, max: 8, interval: 1, show: !!p.axes, splitLine: {show: false},
    name: '{i|z} (mm)', nameLocation: 'middle', nameGap: 53,
    nameTextStyle: {fontFamily: SERIF, fontSize: 32, color: '#000', rich: {i: {fontFamily: SERIF, fontSize: 32, fontStyle: 'italic', color: '#000'}}},
    axisLine: {onZero: false, lineStyle: {color: '#000', width: 2.5}},
    axisTick: {length: 15, lineStyle: {color: '#000', width: 2}},
    minorTick: {show: true, splitNumber: 2, length: 8, lineStyle: {color: '#000', width: 1.5}},
    axisLabel: {margin: 22, fontFamily: SERIF, fontSize: 26, color: '#000'}
  });
  yAxis.push({
    gridIndex: i, type: 'value', min: -1.5, max: 1.5, interval: 0.5, show: !!p.axes, splitLine: {show: false},
    name: '{i|x} (mm)', nameLocation: 'middle', nameGap: 72, nameRotate: 90,
    nameTextStyle: {fontFamily: SERIF, fontSize: 32, color: '#000', rich: {i: {fontFamily: SERIF, fontSize: 32, fontStyle: 'italic', color: '#000'}}},
    axisLine: {onZero: false, lineStyle: {color: '#000', width: 2.5}},
    axisTick: {length: 15, lineStyle: {color: '#000', width: 2}},
    minorTick: {show: true, splitNumber: 2, length: 8, lineStyle: {color: '#000', width: 1.5}},
    axisLabel: {margin: 22, fontFamily: SERIF, fontSize: 26, color: '#000',
      formatter: v => yTickLabels[yTicks.indexOf(v)]}
  });

  const common = {xAxisIndex: i, yAxisIndex: i, silent: true, animation: false};
  // channel base
  series.push({...common, type: 'custom', clip: false, data: [[2, 0]],
    renderItem: (params, api) => ({type: 'rect', shape: rectFrom(api, 2, p.wall[0] - .01, 8, p.wall[1] + .005), style: {fill: bandColor(-.01)}})
  });
  // contour bands
  series.push({...common, type: 'custom', clip: false,
    data: p.fill.map(f => [f[1][0], f[1][1], f[0]]),
    renderItem: (params, api) => {
      const f = p.fill[params.dataIndex];
      return {
        type: 'polygon',
        shape: {points: pairs(f[1]).map(q => api.coord(q)), smooth: 0.35},
        style: {fill: bandColor(f[0])},
        clipPath: {type: 'rect', shape: rectFrom(api, 2, p.wall[0] - .01, 8, p.wall[1] + .005)}
      };
    }
  });
  // inlets, nozzle boxes and channel walls
  series.push({...common, type: 'custom', clip: false, data: [[2, 0]],
    renderItem: (params, api) => {
      const kids = [];
      [[p.inlet[0], p.inlet[1]], [p.inlet[2], p.inlet[3]]].forEach(b => {
        kids.push({type: 'rect', shape: rectFrom(api, 1, b[0], 1.82, b[1]), style: {fill: bandColor(-.01), stroke: '#a8a8a8', lineWidth: 1}});
        kids.push({type: 'rect', shape: rectFrom(api, 1.82, b[0], 2, b[1]), style: {fill: '#f4f4f4', stroke: '#9a9a9a', lineWidth: 1.5}});
        const c = [api.coord([1.82, b[0]]), api.coord([2, b[1]]), api.coord([2, b[0]]), api.coord([1.82, b[1]])];
        kids.push({type: 'line', shape: {x1: c[0][0], y1: c[0][1], x2: c[1][0], y2: c[1][1]}, style: {stroke: '#9a9a9a', lineWidth: 1}});
        kids.push({type: 'line', shape: {x1: c[2][0], y1: c[2][1], x2: c[3][0], y2: c[3][1]}, style: {stroke: '#9a9a9a', lineWidth: 1}});
      });
      p.wall.forEach(w => {
        const a = api.coord([2, w]), b = api.coord([8, w]);
        kids.push({type: 'line', shape: {x1: a[0], y1: a[1], x2: b[0], y2: b[1]}, style: {stroke: '#b8b8b8', lineWidth: 2}});
      });
      return {type: 'group', children: kids};
    }
  });
  // streamlines
  const lineSeries = (flat, width) => ({...common, type: 'line', data: pairs(flat), smooth: 0.35,
    showSymbol: false, symbol: 'none', clip: true, lineStyle: {color: '#000', width: width}, z: 4});
  series.push(lineSeries(inletTop, 1.4), lineSeries(inletBot, 1.4));
  p.lines.forEach(l => series.push(lineSeries(l, 1.4)));
  p.thick.forEach(l => series.push(lineSeries(l, p.thickW)));

  const n = i % 4, isA = i < 4;
  const text = isA
    ? '{b|(a' + (n + 1) + ') }{m|m}{s|H2}{b| = ' + capRowA[n] + ' g/h}'
    : '{b|(b' + (n + 1) + ') }{m|k}{s|s}{b| = ' + capRowB[n] + ' W/(m·K)}';
  title.push({
    text: text, left: captionX[i], top: captionY[i], textAlign: 'center', textVerticalAlign: 'middle',
    textStyle: {
      rich: {
        b: {fontFamily: SERIF, fontWeight: 'bold', fontSize: 55, color: '#000'},
        m: {fontFamily: SERIF, fontWeight: 'bold', fontStyle: 'italic', fontSize: 55, color: '#000'},
        s: {fontFamily: SERIF, fontWeight: 'bold', fontStyle: 'italic', fontSize: 37, color: '#000', verticalAlign: 'bottom', padding: [14, 0, 0, 0]}
      }
    }
  });
});

title.push(
  {text: '(a)', left: 62, top: 369, textAlign: 'center', textVerticalAlign: 'middle', textStyle: {fontFamily: SERIF, fontWeight: 'bold', fontSize: 66, color: '#000'}},
  {text: '(b)', left: 62, top: 887, textAlign: 'center', textVerticalAlign: 'middle', textStyle: {fontFamily: SERIF, fontWeight: 'bold', fontSize: 66, color: '#000'}}
);

// colour bar gets its own grid, axis from -0.06 so ticks land on the band edges
const cb = panels.length;
grid.push({left: 1027, top: 29, width: 1805.4, height: 58, show: false});
xAxis.push({
  gridIndex: cb, type: 'value', min: -0.06, max: 0.28, interval: 0.02, splitLine: {show: false},
  axisLine: {show: false}, axisTick: {show: false},
  axisLabel: {margin: 17, fontFamily: 'Liberation Sans', fontSize: 35, color: '#000',
    formatter: v => (v < -0.05 || v > 0.27) ? '' : String(+v.toFixed(2))}
});
yAxis.push({gridIndex: cb, type: 'value', min: 0, max: 1, show: false});
series.push({
  type: 'custom', xAxisIndex: cb, yAxisIndex: cb, silent: true, animation: false, clip: false,
  data: bandColors.map((c, i) => [bandEdges[i], 0, bandEdges[i + 1], 1]),
  renderItem: (params, api) => {
    const r = rectFrom(api, api.value(0), api.value(3), api.value(2), api.value(1));
    return {type: 'rect', shape: r, style: {fill: bandColors[params.dataIndex], stroke: '#222', lineWidth: 1}};
  }
});

const chart = echarts.init(document.getElementById('chart'));
chart.setOption({animation: false, backgroundColor: '#fff', title, grid, xAxis, yAxis, series});
</script>
</body>
</html>
